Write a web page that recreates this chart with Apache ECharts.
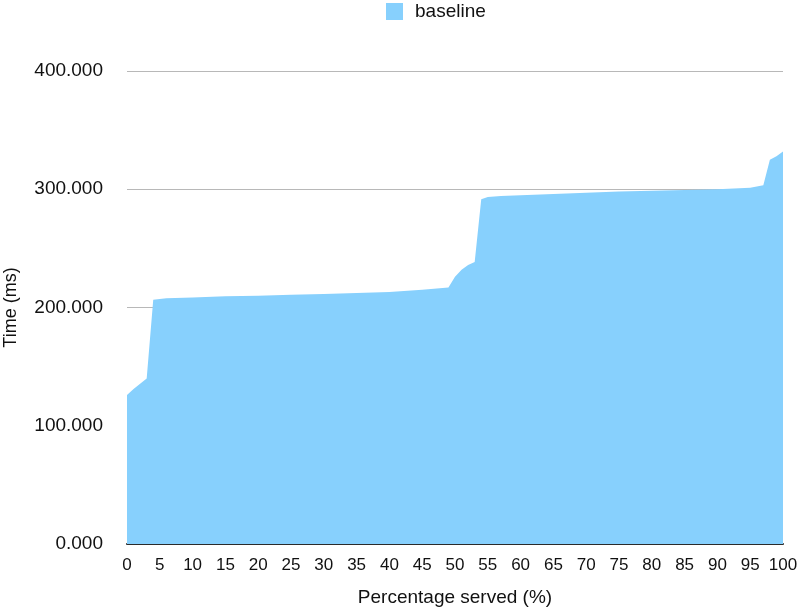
<!DOCTYPE html>
<html>
<head>
<meta charset="utf-8">
<script src="https://cdn.jsdelivr.net/npm/echarts@6/dist/echarts.min.js"></script>
<style>html,body{margin:0;padding:0;background:#fff;overflow:hidden}#c{width:800px;height:609px}</style>
</head>
<body>
<div id="c"></div>
<script>
const percents = [0,1,2,3,4,6,10,15,20,25,30,35,40,45,49,50,51,52,53,54,55,57,60,65,70,75,80,85,90,95,97,98,99,100];
const times    = [126,131,135.5,140,206.5,207.8,208.5,209.5,210,210.7,211.5,212.3,213.2,215,217,226,232,236,238.5,291.5,293.5,294.3,295,296,297,298,298.8,299.3,300,301.2,303.3,325,328,332];
const seriesName = 'baseline';

const FONT = 'Liberation Sans, Arial, Helvetica, sans-serif';
const chart = echarts.init(document.getElementById('c'));
chart.setOption({
  animation: false,
  legend: {
    top: 2, left: 386, padding: 0,
    itemWidth: 17, itemHeight: 17, itemGap: 10,
    icon: 'rect',
    textStyle: {fontFamily: FONT, fontSize: 19, color: '#111', padding: [0, 0, 0, 7]},
    data: [seriesName]
  },
  grid: {left: 127, right: 17, top: 71, bottom: 65, containLabel: false, outerBoundsMode: 'none'},
  xAxis: {
    type: 'value', min: 0, max: 100, interval: 5,
    name: 'Percentage served (%)', nameLocation: 'middle', nameGap: 44,
    nameTextStyle: {fontFamily: FONT, fontSize: 19, color: '#111'},
    axisLine: {show: true, lineStyle: {color: '#2a2a2a', width: 2}},
    axisTick: {show: false},
    splitLine: {show: false},
    axisLabel: {margin: 13, fontFamily: FONT, fontSize: 17, color: '#111'}
  },
  yAxis: {
    type: 'value', min: 0, max: 400, interval: 100,
    name: 'Time (ms)', nameLocation: 'middle', nameGap: 107, nameRotate: 90,
    nameTextStyle: {fontFamily: FONT, fontSize: 18, color: '#111'},
    axisLine: {show: false},
    axisTick: {show: false},
    splitLine: {show: true, lineStyle: {color: '#b8b8b8', width: 1}},
    axisLabel: {margin: 24, fontFamily: FONT, fontSize: 19, color: '#111',
      formatter: v => v.toFixed(3)}
  },
  series: [{
    name: seriesName,
    type: 'line',
    data: percents.map((p, i) => [p, times[i]]),
    symbol: 'none',
    lineStyle: {width: 0, color: '#87D0FD'},
    itemStyle: {color: '#87D0FD'},
    areaStyle: {color: '#87D0FD', opacity: 1},
    z: 1
  }]
});
</script>
</body>
</html>
